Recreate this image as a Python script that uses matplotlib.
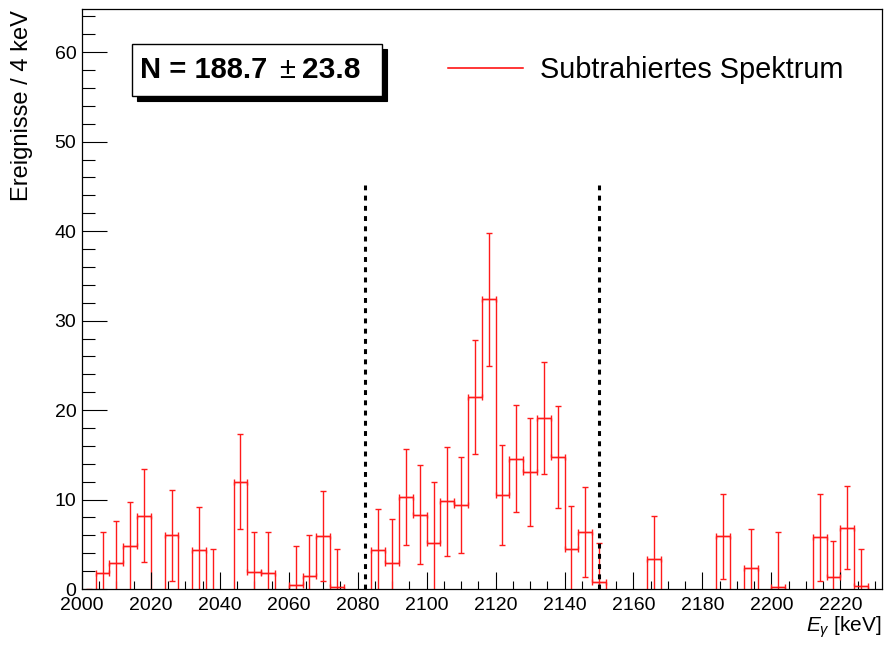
import numpy as np
import matplotlib
matplotlib.use('Agg')
import matplotlib.pyplot as plt
from matplotlib.patches import Rectangle
from matplotlib.ticker import MultipleLocator

plt.rcParams['font.family'] = ['Liberation Sans', 'DejaVu Sans']
plt.rcParams['mathtext.fontset'] = 'custom'
plt.rcParams['mathtext.rm'] = 'Liberation Sans'
plt.rcParams['mathtext.it'] = 'Liberation Sans:italic'
plt.rcParams['mathtext.bf'] = 'Liberation Sans:bold'

# subtracted spectrum, 4 keV bins from 2000 to 2232 keV
bin_lo = 2000
bin_width = 4
counts = [-3.0, 1.8, 2.9, 4.8, 8.2, -5.5, 6.0, -6.0, 4.35, -1.0,
          -6.0, 12.0, 1.86, 1.78, -5.0, 0.45, 1.4, 5.95, 0.26, -4.0,
          -5.0, 4.38, 2.93, 10.3, 8.32, 5.16, 9.81, 9.4, 21.44, 32.4,
          10.52, 14.57, 13.08, 19.1, 14.75, 4.44, 6.35, 0.74, -4.0, -5.0,
          -4.0, 3.31, -5.0, -4.0, -6.0, -5.0, 5.87, -5.0, 2.32, -5.0,
          0.18, -5.0, -5.0, 5.76, 1.37, 6.87, 0.37, -4.0]
errors = [3.0, 4.6, 4.7, 4.9, 5.2, 4.5, 5.1, 4.5, 4.8, 5.46,
          4.5, 5.3, 4.5, 4.6, 4.4, 4.4, 4.6, 5.0, 4.24, 3.8,
          4.0, 4.57, 4.9, 5.4, 5.5, 6.8, 6.1, 5.35, 6.35, 7.45,
          5.6, 5.95, 6.05, 6.25, 5.74, 4.85, 5.05, 4.4, 3.5, 4.0,
          3.8, 4.8, 4.0, 3.5, 4.0, 4.0, 4.75, 4.0, 4.4, 4.0,
          6.14, 4.0, 4.0, 4.87, 4.0, 4.65, 4.1, 3.5]

# integration window
window = [2082, 2150]
window_top = 45.2

n_signal = '188.7'
n_error = '23.8'

counts = np.array(counts)
errors = np.array(errors)
edges = bin_lo + bin_width * np.arange(len(counts) + 1)
centers = 0.5 * (edges[:-1] + edges[1:])

W, H = 886, 649
fig = plt.figure(figsize=(W / 100, H / 100), dpi=100)
ax = fig.add_axes([81.9 / W, 1 - 589 / H, (881.7 - 81.9) / W, (589 - 9.3) / H])

red = '#ff1a1a'
ax.stairs(counts, edges, baseline=None, color=red, lw=1.0)
ax.errorbar(centers, counts, xerr=bin_width / 2, yerr=errors, fmt='none',
            ecolor=red, elinewidth=1.0, capsize=2, capthick=1.0)

for xw in window:
    ax.plot([xw, xw], [0, window_top], color='black', lw=2.2,
            dashes=(1.6, 1.75), solid_capstyle='butt', dash_capstyle='butt')

ax.set_xlim(edges[0], edges[-1])
ax.set_ylim(0, 64.8)

ax.xaxis.set_major_locator(MultipleLocator(20))
ax.xaxis.set_minor_locator(MultipleLocator(5))
ax.yaxis.set_major_locator(MultipleLocator(10))
ax.yaxis.set_minor_locator(MultipleLocator(2))
ax.tick_params(axis='x', which='major', direction='in', length=12.2, width=0.8,
               labelsize=14, pad=6)
ax.tick_params(axis='x', which='minor', direction='in', length=6.1, width=0.8)
ax.tick_params(axis='y', which='major', direction='in', length=18, width=0.8,
               labelsize=14, pad=4)
ax.tick_params(axis='y', which='minor', direction='in', length=9.4, width=0.8)
for sp in ax.spines.values():
    sp.set_linewidth(0.9)

fig.text(882 / W, 1 - 627 / H, r'$E_{\gamma}$ [keV]', ha='right', va='center',
         fontsize=15)
fig.text(22 / W, 1 - 10 / H, 'Ereignisse / 4 keV', rotation=90,
         ha='center', va='top', fontsize=17)

# result box with shadow
bx, by, bw, bh = 131.7 / W, 1 - 95.7 / H, 250 / W, 51.4 / H
fig.patches.append(Rectangle((bx + 5 / W, by - 5 / H), bw, bh,
                             transform=fig.transFigure, facecolor='black',
                             edgecolor='black', lw=0.8))
fig.patches.append(Rectangle((bx, by), bw, bh, transform=fig.transFigure,
                             facecolor='white', edgecolor='black', lw=1.0))
ty = by + bh / 2
fig.text(267 / W, ty, 'N = ' + n_signal, ha='right', va='center',
         fontsize=21, fontweight='bold')
fig.text(287.5 / W, ty, '\u00b1', ha='center', va='center', fontsize=21)
fig.text(302 / W, ty, n_error, ha='left', va='center',
         fontsize=21.5, fontweight='bold')

ax.legend([plt.Line2D([], [], color='red', lw=1.1)], ['Subtrahiertes Spektrum'],
          loc='center left', bbox_to_anchor=(448 / W, 1 - 70 / H),
          bbox_transform=fig.transFigure, frameon=False, fontsize=20.8,
          handlelength=2.6, handletextpad=0.59, borderpad=0, borderaxespad=0)

fig.savefig('out.png', dpi=100)
